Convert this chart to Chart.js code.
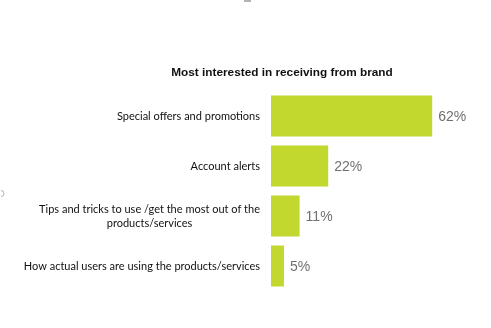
<!DOCTYPE html>
<html>
<head>
<meta charset="utf-8">
<script src="https://cdn.jsdelivr.net/npm/chart.js@4"></script>
<style>
  html, body { margin: 0; padding: 0; background: #ffffff; }
  #wrap { width: 491px; height: 328px; position: relative; }
</style>
</head>
<body>
<div id="wrap"><canvas id="chart" width="491" height="328"></canvas></div>
<script>
// Survey answers, top to bottom
const categories = [
  ["Special offers and promotions"],
  ["Account alerts"],
  ["Tips and tricks to use /get the most out of the", "products/services"],
  ["How actual users are using the products/services"]
];
const shares = [62, 22, 11, 5];
const chartTitle = "Most interested in receiving from brand";

const BAR_COLOR = "#c3d82f";
const LABEL_FONT = "11px Lato, 'Open Sans', sans-serif";
const VALUE_FONT = "14px 'Liberation Sans', Arial, sans-serif";
const TITLE_FONT = "bold 11.8px 'Liberation Sans', Arial, sans-serif";

// Heading, centred over the label column and the bars
const heading = {
  id: "heading",
  afterDraw(chart) {
    const ctx = chart.ctx;
    ctx.save();
    ctx.font = TITLE_FONT;
    ctx.fillStyle = "#111111";
    ctx.textAlign = "center";
    ctx.textBaseline = "middle";
    ctx.fillText(chartTitle, 282, 72.5);
    ctx.restore();
  }
};

// Category names: lines centred on each other, block right-aligned next to the bars
const categoryLabels = {
  id: "categoryLabels",
  afterDraw(chart) {
    const ctx = chart.ctx;
    const y = chart.scales.y;
    const right = chart.chartArea.left - 11;
    const lineH = 14;
    ctx.save();
    ctx.font = LABEL_FONT;
    ctx.fillStyle = "#111111";
    ctx.textAlign = "center";
    ctx.textBaseline = "middle";
    categories.forEach((lines, i) => {
      const cy = y.getPixelForValue(i);
      const w = Math.max(...lines.map(l => ctx.measureText(l).width));
      const cx = right - w / 2;
      const top = cy - (lines.length - 1) * lineH / 2;
      lines.forEach((l, k) => ctx.fillText(l, cx, top + k * lineH));
    });
    ctx.restore();
  }
};

// Percentage printed just past the end of each bar
const valueLabels = {
  id: "valueLabels",
  afterDatasetsDraw(chart) {
    const ctx = chart.ctx;
    const meta = chart.getDatasetMeta(0);
    ctx.save();
    ctx.font = VALUE_FONT;
    ctx.fillStyle = "#707070";
    ctx.textAlign = "left";
    ctx.textBaseline = "middle";
    meta.data.forEach((bar, i) => {
      ctx.fillText(shares[i] + "%", bar.x + 6, bar.y + 1);
    });
    ctx.restore();
  }
};

// Small grey fragments around the edge of the slide
const edgeMarks = {
  id: "edgeMarks",
  afterDraw(chart) {
    const ctx = chart.ctx;
    ctx.save();
    ctx.strokeStyle = "#9a9a9a";
    ctx.lineWidth = 1.5;
    ctx.beginPath();
    ctx.moveTo(244, 1);
    ctx.lineTo(251, 1);
    ctx.stroke();
    ctx.strokeStyle = "#b0b0b0";
    ctx.lineWidth = 1;
    ctx.beginPath();
    ctx.arc(1, 193.5, 3, -Math.PI / 2, Math.PI / 2);
    ctx.stroke();
    ctx.restore();
  }
};

new Chart(document.getElementById("chart"), {
  type: "bar",
  data: {
    labels: categories.map(c => c.join(" ")),
    datasets: [{
      data: shares,
      backgroundColor: BAR_COLOR,
      borderWidth: 0,
      categoryPercentage: 1,
      barPercentage: 0.82
    }]
  },
  options: {
    indexAxis: "y",
    responsive: false,
    animation: false,
    layout: { padding: { left: 0, right: 12, top: 91, bottom: 37 } },
    plugins: {
      legend: { display: false },
      tooltip: { enabled: false },
      title: { display: false }
    },
    scales: {
      x: {
        min: 0,
        max: 80,
        display: false
      },
      y: {
        grid: { display: false },
        border: { display: false },
        ticks: { display: false },
        afterFit(scale) { scale.width = 271; }
      }
    }
  },
  plugins: [heading, categoryLabels, valueLabels, edgeMarks]
});
</script>
</body>
</html>
